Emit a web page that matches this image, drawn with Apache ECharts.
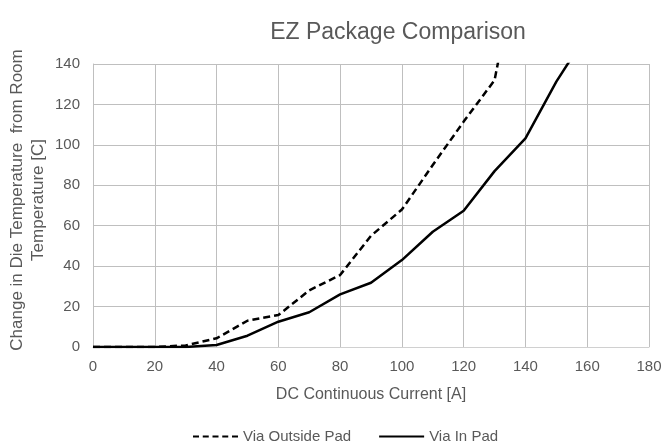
<!DOCTYPE html>
<html><head><meta charset="utf-8">
<script src="https://cdn.jsdelivr.net/npm/echarts@6/dist/echarts.min.js"></script>
<style>html,body{margin:0;padding:0;background:#fff}#c{width:663px;height:445px}</style>
</head><body><div id="c"></div>
<script>
const currents = [0,10,20,30,40,50,60,70,80,90,100,110,120,130,140,150,160];
const outsidePad = [0,0,0,0.8,4.3,13,15.8,28,35.6,55,68,90,111.5,132,210];
const inPad = [0,0,0,0,1,5.6,12.5,17.2,26,31.8,43,57,67.4,87,103.2,131.3,155];
const xTicks = [0,20,40,60,80,100,120,140,160,180];
const yTicks = [0,20,40,60,80,100,120,140];
const titleText = 'EZ Package Comparison';
const xName = 'DC Continuous Current [A]';
const yName = 'Change in Die Temperature  from Room\nTemperature [C]';

const toPairs = (vals) => vals.map((v,i)=>[currents[i], v]);
const font = 'Liberation Sans, Arial, sans-serif';
const chart = echarts.init(document.getElementById('c'));
chart.setOption({
  animation:false,
  title:{text:titleText, left:393, top:16, textAlign:'center',
    textStyle:{fontFamily:font, fontSize:23, fontWeight:'normal', color:'#595959'}},
  grid:{left:93, right:14, top:64, bottom:98, containLabel:false, outerBoundsMode:'none'},
  xAxis:{type:'value', min:xTicks[0], max:xTicks[xTicks.length-1], interval:20,
    name:xName, nameLocation:'middle', nameGap:40,
    nameTextStyle:{fontFamily:font, fontSize:16, color:'#595959'},
    axisLine:{show:true, lineStyle:{color:'#d0d0d0'}}, axisTick:{show:false},
    axisLabel:{fontFamily:font, fontSize:15, color:'#595959', margin:12},
    splitLine:{show:true, lineStyle:{color:'#bfbfbf', width:1}}},
  yAxis:{type:'value', min:yTicks[0], max:yTicks[yTicks.length-1], interval:20,
    axisLine:{show:true, lineStyle:{color:'#bfbfbf'}}, axisTick:{show:false},
    axisLabel:{fontFamily:font, fontSize:15, color:'#595959', margin:13},
    splitLine:{show:true, lineStyle:{color:'#bfbfbf', width:1}}},
  graphic:[{type:'text', x:28, y:200, rotation:Math.PI/2,
    style:{text:yName, font:'17px Liberation Sans, Arial, sans-serif', fill:'#595959',
      textAlign:'center', textVerticalAlign:'middle', lineHeight:21}}],
  legend:{top:424, left:188, itemWidth:45, itemHeight:10, itemGap:28,
    textStyle:{fontFamily:font, fontSize:15, color:'#595959'},
    data:[{name:'Via Outside Pad', icon:'path://M0,4H6V6H0Z M9.75,4H15.75V6H9.75Z M19.5,4H25.5V6H19.5Z M29.25,4H35.25V6H29.25Z M39,4H45V6H39Z'},
          {name:'Via In Pad', icon:'path://M0,4H45V6H0Z'}]},
  series:[
    {name:'Via Outside Pad', type:'line', data:toPairs(outsidePad), showSymbol:false, symbol:'none',
      clip:true, lineStyle:{color:'#000', width:2.5, type:[7,4]}, itemStyle:{color:'#000'}},
    {name:'Via In Pad', type:'line', data:toPairs(inPad), showSymbol:false, symbol:'none',
      clip:true, lineStyle:{color:'#000', width:2.5}, itemStyle:{color:'#000'}}
  ]
});
</script></body></html>
